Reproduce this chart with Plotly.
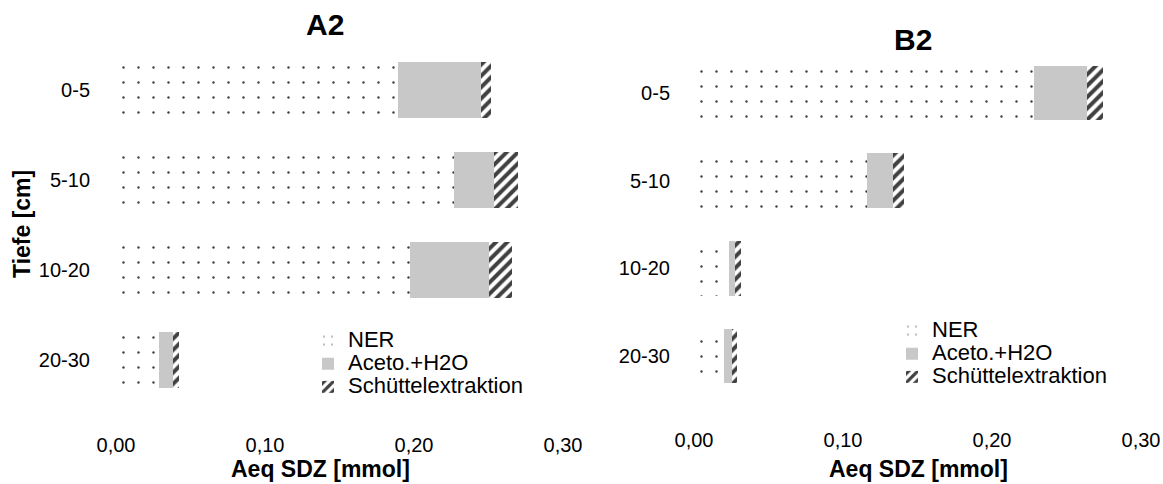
import plotly.graph_objects as go

# ---------------- data ----------------
depths = ["0-5", "5-10", "10-20", "20-30"]
series_names = ["NER", "Aceto.+H2O", "Schüttelextraktion"]

a2_ner = [0.189, 0.227, 0.197, 0.029]
a2_aceto = [0.056, 0.027, 0.053, 0.0095]
a2_schuettel = [0.007, 0.016, 0.0155, 0.004]

b2_ner = [0.228, 0.116, 0.0235, 0.020]
b2_aceto = [0.0356, 0.0175, 0.004, 0.0054]
b2_schuettel = [0.0107, 0.0074, 0.004, 0.0034]

x_ticks = [0, 0.1, 0.2, 0.3]
x_tick_labels = ["0,00", "0,10", "0,20", "0,30"]

panel_titles = ["A2", "B2"]
x_title = "Aeq SDZ [mmol]"
y_title = "Tiefe [cm]"

# ---------------- layout helpers ----------------
W, H = 1163, 484
FONT = "Liberation Sans, Arial, sans-serif"
DARK = "#404040"
GRAY = "#C8C8C8"
LEG_TEXT_PX = 22


def px(x):
    return x / W


def py(y):
    return 1 - y / H


styles = [
    dict(color="white", line=dict(width=0),
         pattern=dict(shape=".", fgcolor=DARK, bgcolor="white", size=15,
                      solidity=0.02, fillmode="replace")),
    dict(color=GRAY, line=dict(width=0)),
    dict(color="white", line=dict(width=0),
         pattern=dict(shape="/", fgcolor=DARK, bgcolor="white", size=8,
                      solidity=0.5, fillmode="replace")),
]

fig = go.Figure()

panels = [
    ([a2_ner, a2_aceto, a2_schuettel], "x", "y", "legend"),
    ([b2_ner, b2_aceto, b2_schuettel], "x2", "y2", "legend2"),
]
for vals, xa, ya, lg in panels:
    for name, v, st in zip(series_names, vals, styles):
        fig.add_trace(go.Bar(
            y=depths, x=v,
            name='<span style="font-size:%dpx">%s</span>' % (LEG_TEXT_PX, name),
            orientation="h", marker=st, xaxis=xa, yaxis=ya, legend=lg,
            hoverinfo="skip",
        ))

axis_common = dict(showgrid=False, zeroline=False, showline=False, ticks="",
                   automargin=False)
tfont = dict(family=FONT, size=20, color="black")
legfont = dict(family=FONT, size=15.5, color="black")

fig.update_layout(
    width=W, height=H,
    margin=dict(l=0, r=0, t=0, b=0, autoexpand=False),
    paper_bgcolor="white", plot_bgcolor="white",
    barmode="stack", bargap=0.38,
    separators=",.",
    font=dict(family=FONT, color="black"),
    xaxis=dict(domain=[px(116), px(563)], range=[0, 0.3], anchor="y",
               tickvals=x_ticks, ticktext=x_tick_labels, tickfont=tfont,
               ticklabelstandoff=26, **axis_common),
    yaxis=dict(domain=[py(405), py(45)], anchor="x", autorange="reversed",
               tickfont=tfont, ticklabelstandoff=25, **axis_common),
    xaxis2=dict(domain=[px(694), px(1141)], range=[0, 0.3], anchor="y2",
                tickvals=x_ticks, ticktext=x_tick_labels, tickfont=tfont,
                ticklabelstandoff=26, **axis_common),
    yaxis2=dict(domain=[py(400), py(49)], anchor="x2", autorange="reversed",
                tickfont=tfont, ticklabelstandoff=23, **axis_common),
    legend=dict(x=px(308), y=py(324), xanchor="left", yanchor="top",
                bgcolor="rgba(0,0,0,0)", traceorder="normal", font=legfont),
    legend2=dict(x=px(892), y=py(314), xanchor="left", yanchor="top",
                 bgcolor="rgba(0,0,0,0)", traceorder="normal", font=legfont),
)

ann = [
    dict(text="<b>%s</b>" % panel_titles[0], x=px(325), y=py(25), size=30),
    dict(text="<b>%s</b>" % panel_titles[1], x=px(913), y=py(40), size=30),
    dict(text="<b>%s</b>" % x_title, x=px(320), y=py(469), size=23),
    dict(text="<b>%s</b>" % x_title, x=px(918), y=py(469), size=23),
]
for a in ann:
    fig.add_annotation(text=a["text"], x=a["x"], y=a["y"], xref="paper", yref="paper",
                       xanchor="center", yanchor="middle", showarrow=False,
                       font=dict(family=FONT, size=a["size"], color="black"))
fig.add_annotation(text="<b>%s</b>" % y_title, x=px(22), y=py(224), xref="paper", yref="paper",
                   xanchor="center", yanchor="middle", showarrow=False, textangle=-90,
                   font=dict(family=FONT, size=23, color="black"))

fig.write_html(
    "out.html",
    config={"displayModeBar": False},
    post_script="document.body.style.margin='0';document.body.style.overflow='hidden';",
)
